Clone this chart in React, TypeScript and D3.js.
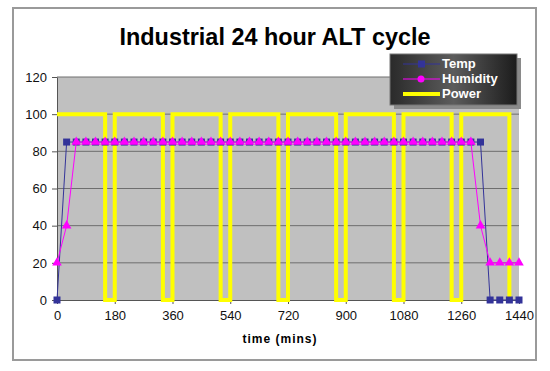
import React, { useEffect, useRef } from 'react';
import * as d3 from 'd3';

// readings every 30 min
const sampleTimes = [
  0, 30, 60, 90, 120, 150, 180, 210, 240, 270, 300, 330, 360, 390, 420, 450, 480,
  510, 540, 570, 600, 630, 660, 690, 720, 750, 780, 810, 840, 870, 900, 930, 960,
  990, 1020, 1050, 1080, 1110, 1140, 1170, 1200, 1230, 1260, 1290, 1320, 1350,
  1380, 1410, 1440,
];
const tempValues = [
  0,
  85, 85, 85, 85, 85, 85, 85, 85, 85, 85, 85,
  85, 85, 85, 85, 85, 85, 85, 85, 85, 85, 85,
  85, 85, 85, 85, 85, 85, 85, 85, 85, 85, 85,
  85, 85, 85, 85, 85, 85, 85, 85, 85, 85, 85,
  0, 0, 0, 0,
];
const humidityValues = [
  20, 40,
  85, 85, 85, 85, 85, 85, 85, 85, 85, 85, 85,
  85, 85, 85, 85, 85, 85, 85, 85, 85, 85, 85,
  85, 85, 85, 85, 85, 85, 85, 85, 85, 85, 85,
  85, 85, 85, 85, 85, 85, 85, 85, 85,
  40, 20, 20, 20, 20,
];
const powerTimes = [
  0, 150, 150, 180, 180, 330, 330, 360, 360, 510, 510, 540, 540, 690, 690, 720,
  720, 870, 870, 900, 900, 1050, 1050, 1080, 1080, 1230, 1230, 1260, 1260, 1410, 1410,
];
const powerValues = [
  100, 100, 0, 0, 100, 100, 0, 0, 100, 100, 0, 0, 100, 100, 0, 0,
  100, 100, 0, 0, 100, 100, 0, 0, 100, 100, 0, 0, 100, 100, 0,
];
const xTicks = [0, 180, 360, 540, 720, 900, 1080, 1260, 1440];
const yTicks = [0, 20, 40, 60, 80, 100, 120];
const seriesNames = ['Temp', 'Humidity', 'Power'];

const W = 550, H = 371;
const FONT = 'Arial, "Liberation Sans", sans-serif';

export default function App() {
  const svgRef = useRef(null);

  useEffect(() => {
    const svg = d3.select(svgRef.current);
    svg.selectAll('*').remove();

    const left = 57, right = 519, top = 77, bottom = 300;
    const x = d3.scaleLinear().domain([0, 1440]).range([left, right]);
    const y = d3.scaleLinear().domain([0, 120]).range([bottom, top]);

    // chart frame
    svg.append('rect')
      .attr('x', 13).attr('y', 8).attr('width', 523).attr('height', 352)
      .attr('fill', '#fff').attr('stroke', '#9a9a9a').attr('stroke-width', 2);

    // title
    svg.append('text')
      .attr('x', 275).attr('y', 45)
      .attr('text-anchor', 'middle')
      .attr('font-family', FONT).attr('font-weight', 'bold').attr('font-size', 24)
      .attr('textLength', 311).attr('lengthAdjust', 'spacingAndGlyphs')
      .text('Industrial 24 hour ALT cycle');

    // plot area
    svg.append('rect')
      .attr('x', left).attr('y', top).attr('width', right - left).attr('height', bottom - top)
      .attr('fill', '#c0c0c0');

    // gridlines
    svg.append('g').selectAll('line')
      .data(yTicks.filter(d => d > 0))
      .enter().append('line')
      .attr('x1', left).attr('x2', right)
      .attr('y1', d => y(d)).attr('y2', d => y(d))
      .attr('stroke', '#6e6e6e').attr('stroke-width', 1);

    // axes
    const yAxis = d3.axisLeft(y).tickValues(yTicks).tickSizeInner(5).tickSizeOuter(0).tickPadding(5);
    const gy = svg.append('g').attr('transform', `translate(${left},0)`).call(yAxis);
    const xAxis = d3.axisBottom(x).tickValues(xTicks).tickFormat(d3.format('d'))
      .tickSizeInner(4).tickSizeOuter(0).tickPadding(7);
    const gx = svg.append('g').attr('transform', `translate(0,${bottom})`).call(xAxis);
    [gx, gy].forEach(g => {
      g.selectAll('text').attr('font-family', FONT).attr('font-size', 13).attr('fill', '#111');
      g.selectAll('line').attr('stroke', '#555');
      g.select('.domain').attr('stroke', '#555');
    });

    svg.append('text')
      .attr('x', 280).attr('y', 343)
      .attr('text-anchor', 'middle')
      .attr('font-family', FONT).attr('font-weight', 'bold').attr('font-size', 12)
      .attr('letter-spacing', 1)
      .text('time (mins)');

    // power square wave
    const powerPts = powerTimes.map((t, i) => [t, powerValues[i]]);
    const line = d3.line().x(d => x(d[0])).y(d => y(d[1]));
    svg.append('path')
      .attr('d', line(powerPts))
      .attr('fill', 'none').attr('stroke', '#ffff00').attr('stroke-width', 4)
      .attr('stroke-linejoin', 'miter');

    const tempPts = sampleTimes.map((t, i) => [t, tempValues[i]]);
    const humPts = sampleTimes.map((t, i) => [t, humidityValues[i]]);

    svg.append('path')
      .attr('d', line(tempPts))
      .attr('fill', 'none').attr('stroke', '#333399').attr('stroke-width', 1);
    svg.append('g').selectAll('rect')
      .data(tempPts).enter().append('rect')
      .attr('x', d => x(d[0]) - 3.5).attr('y', d => y(d[1]) - 3.5)
      .attr('width', 7).attr('height', 7)
      .attr('fill', '#333399');

    svg.append('path')
      .attr('d', line(humPts))
      .attr('fill', 'none').attr('stroke', '#ff00ff').attr('stroke-width', 1);
    const tri = d3.symbol().type(d3.symbolTriangle).size(40);
    svg.append('g').selectAll('path')
      .data(humPts).enter().append('path')
      .attr('d', tri())
      .attr('transform', d => `translate(${x(d[0])},${y(d[1])})`)
      .attr('fill', '#ff00ff');

    // legend
    const defs = svg.append('defs');
    const grad = defs.append('linearGradient').attr('id', 'legGrad')
      .attr('x1', '0%').attr('x2', '100%').attr('y1', '0%').attr('y2', '0%');
    grad.append('stop').attr('offset', '0%').attr('stop-color', '#2a2a2a');
    grad.append('stop').attr('offset', '50%').attr('stop-color', '#5c5c5c');
    grad.append('stop').attr('offset', '100%').attr('stop-color', '#1c1c1c');

    const lg = svg.append('g').attr('transform', 'translate(390,54)');
    lg.append('rect').attr('x', 4).attr('y', 4).attr('width', 127).attr('height', 51)
      .attr('fill', '#8a8a8a');
    lg.append('rect').attr('width', 127).attr('height', 51)
      .attr('fill', 'url(#legGrad)').attr('stroke', '#777').attr('stroke-width', 1);

    const colors = ['#333399', '#ff00ff', '#ffff00'];
    seriesNames.forEach((name, i) => {
      const ly = 10 + i * 15;
      lg.append('line').attr('x1', 13).attr('x2', 50).attr('y1', ly).attr('y2', ly)
        .attr('stroke', colors[i]).attr('stroke-width', i === 2 ? 4 : 1);
      if (i === 0) {
        lg.append('rect').attr('x', 28).attr('y', ly - 3.5).attr('width', 7).attr('height', 7)
          .attr('fill', colors[i]);
      } else if (i === 1) {
        lg.append('circle').attr('cx', 31).attr('cy', ly).attr('r', 3.5).attr('fill', colors[i]);
      }
      lg.append('text')
        .attr('x', 52).attr('y', 14 + i * 15)
        .attr('font-family', FONT).attr('font-weight', 'bold').attr('font-size', 13)
        .attr('fill', '#fff')
        .text(name);
    });
  }, []);

  return (
    <div style={{ position: 'fixed', left: 0, top: 0 }}>
      <svg ref={svgRef} width={W} height={H} style={{ display: 'block' }} />
    </div>
  );
}
